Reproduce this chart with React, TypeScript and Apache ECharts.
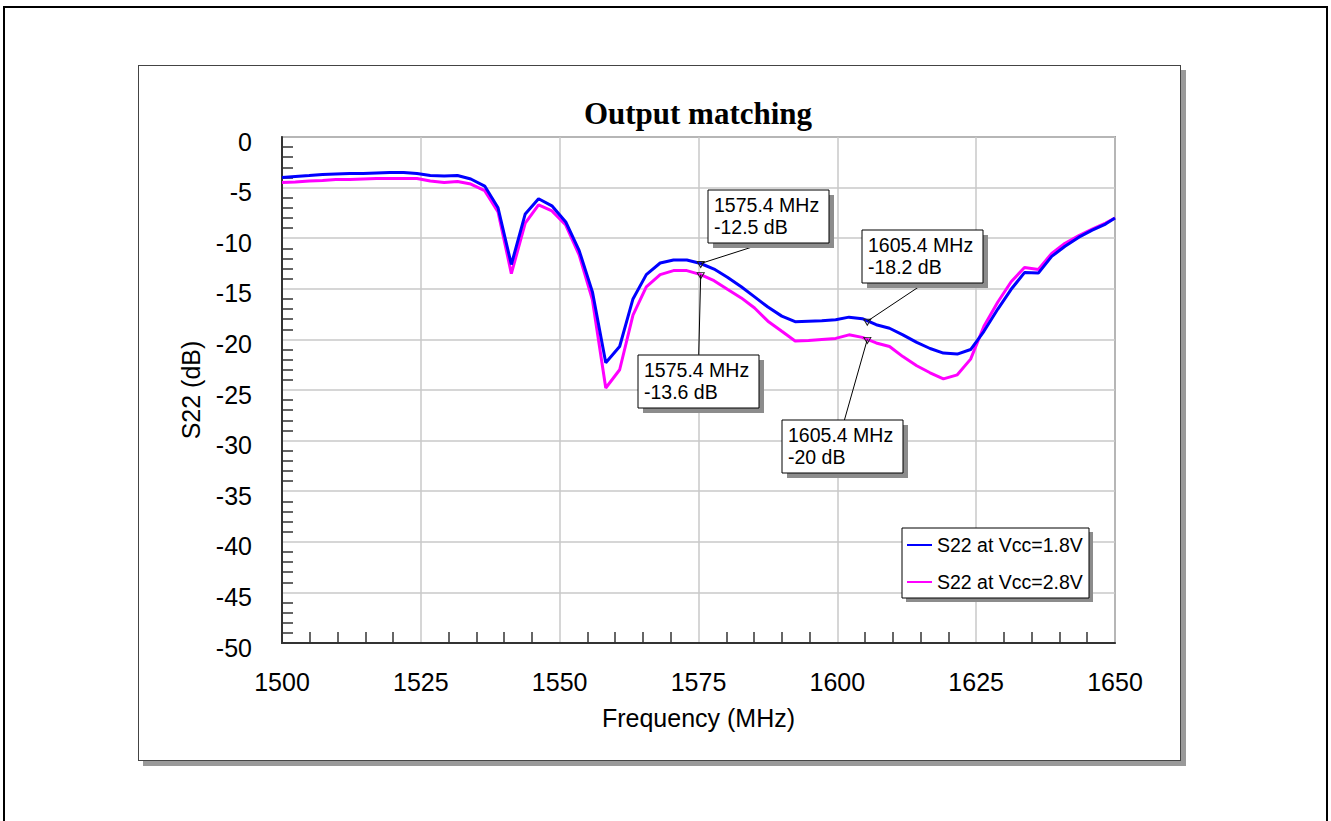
import React, { useEffect, useRef } from 'react';
import * as echarts from 'echarts';

const SANS = "'Liberation Sans', Arial, sans-serif";
const SERIF = "'Liberation Serif', 'Times New Roman', serif";

const chartTitle = 'Output matching';
const xAxisTitle = 'Frequency (MHz)';
const yAxisTitle = 'S22 (dB)';
const seriesNames = ['S22 at Vcc=1.8V', 'S22 at Vcc=2.8V'];

const freqs = [
  1500.0, 1502.4, 1504.9, 1507.3, 1509.7, 1512.2, 1514.6, 1517.0, 1519.4, 1521.9,
  1524.3, 1526.7, 1529.2, 1531.6, 1534.0, 1536.5, 1538.9, 1541.3, 1543.8, 1546.2,
  1548.6, 1551.1, 1553.5, 1555.9, 1558.3, 1560.8, 1563.2, 1565.6, 1568.1, 1570.5,
  1572.9, 1575.4, 1577.8, 1580.2, 1582.7, 1585.1, 1587.5, 1590.0, 1592.4, 1594.8,
  1597.2, 1599.7, 1602.1, 1604.5, 1607.0, 1609.4, 1611.8, 1614.3, 1616.7, 1619.1,
  1621.6, 1624.0, 1626.4, 1628.9, 1631.3, 1633.7, 1636.2, 1638.6, 1641.0, 1643.5,
  1645.9, 1648.3, 1650.0,
];

const s22Vcc18 = [
  -4.0, -3.9, -3.8, -3.7, -3.65, -3.6, -3.6, -3.55, -3.5, -3.5,
  -3.6, -3.8, -3.85, -3.8, -4.15, -4.85, -7.0, -12.6, -7.6, -6.1,
  -6.8, -8.4, -11.2, -15.3, -22.3, -20.7, -16.0, -13.6, -12.45, -12.15,
  -12.15, -12.5, -13.05, -13.85, -14.8, -15.8, -16.8, -17.7, -18.25, -18.2,
  -18.15, -18.05, -17.8, -17.95, -18.55, -18.9, -19.55, -20.3, -20.9, -21.35,
  -21.45, -21.0, -19.2, -17.0, -15.05, -13.4, -13.45, -11.8, -10.8, -9.9,
  -9.2, -8.6, -8.0,
];

const s22Vcc28 = [
  -4.5, -4.45, -4.35, -4.3, -4.2, -4.2, -4.15, -4.1, -4.1, -4.1,
  -4.1, -4.35, -4.5, -4.4, -4.65, -5.3, -7.4, -13.5, -8.5, -6.7,
  -7.3, -8.7, -11.65, -16.1, -24.8, -23.0, -17.6, -14.8, -13.6, -13.2,
  -13.2, -13.6, -14.2, -15.05, -15.9, -16.9, -18.2, -19.2, -20.15, -20.1,
  -20.0, -19.9, -19.55, -19.8, -20.35, -20.7, -21.7, -22.6, -23.3, -23.9,
  -23.5, -21.95, -18.7, -16.3, -14.3, -12.9, -13.1, -11.5, -10.5, -9.75,
  -9.1, -8.5, -8.0,
];

const markerFreqs = [1575.4, 1605.4];
const markersVcc18 = [-12.5, -18.2];
const markersVcc28 = [-13.6, -20];

// box placement relative to the marked point (pixels): box top-left, and leader attach point
const annotationLayout = [
  { series: 0, marker: 0, dx: 7, dy: -74, ax: 53, ay: -17 },
  { series: 1, marker: 0, dx: -63, dy: 80, ax: -2, ay: 80 },
  { series: 0, marker: 1, dx: -5, dy: -91, ax: 51, ay: -34 },
  { series: 1, marker: 1, dx: -85, dy: 81, ax: -23, ay: 81 },
];

const colors = ['#0000ff', '#ff00ff'];

function pairs(vals: number[]) {
  return freqs.map((f, i) => [f, vals[i]]);
}

function markPointFor(vals: number[]) {
  return {
    silent: true,
    symbol: 'triangle',
    symbolSize: [7, 6],
    symbolRotate: 180,
    symbolOffset: [0, 1],
    itemStyle: { color: 'rgba(0,0,0,0)', borderColor: '#222', borderWidth: 1 },
    label: { show: false },
    data: markerFreqs.map((f, i) => ({ coord: [f, vals[i]] })),
  };
}

export default function App() {
  const ref = useRef<HTMLDivElement>(null);

  useEffect(() => {
    const chart = echarts.init(ref.current as HTMLDivElement, null, { renderer: 'svg' });
    const axisCommon = {
      type: 'value',
      nameLocation: 'middle',
      nameTextStyle: { fontFamily: SANS, fontSize: 25, color: '#000' },
      axisLine: { show: true, onZero: false, lineStyle: { color: '#333', width: 2 } },
      axisTick: { show: false, inside: true },
      minorTick: { show: true, splitNumber: 5, length: 11, lineStyle: { color: '#333', width: 1.5 } },
      splitLine: { show: true, lineStyle: { color: '#c8c8c8', width: 1.5 } },
      minorSplitLine: { show: false },
    };
    const option: any = {
      animation: false,
      grid: {
        left: 282, top: 137, width: 833, height: 506,
        show: true, borderColor: '#555', borderWidth: 1.5,
      },
      xAxis: {
        ...axisCommon,
        min: 1500, max: 1650, interval: 25,
        name: xAxisTitle, nameGap: 62,
        axisLabel: { fontFamily: SANS, fontSize: 25, color: '#000', margin: 26, formatter: (v: number) => String(v) },
      },
      yAxis: {
        ...axisCommon,
        min: -50, max: 0, interval: 5,
        name: yAxisTitle, nameGap: 79, nameRotate: 90,
        axisLabel: {
          fontFamily: SANS, fontSize: 25, color: '#000', margin: 30,
          verticalAlign: 'top', lineHeight: 9,
          formatter: (v: number) => String(v),
        },
      },
      legend: {
        orient: 'vertical',
        left: 902, top: 528,
        padding: [7, 5, 5, 5],
        itemWidth: 25, itemHeight: 2, itemGap: 17,
        icon: 'rect',
        textStyle: { fontFamily: SANS, fontSize: 19.5, color: '#000' },
        data: seriesNames,
      },
      series: [
        {
          name: seriesNames[1], type: 'line', data: pairs(s22Vcc28), showSymbol: false, symbol: 'none',
          color: colors[1], lineStyle: { color: colors[1], width: 3 }, z: 2,
          markPoint: markPointFor(markersVcc28),
        },
        {
          name: seriesNames[0], type: 'line', data: pairs(s22Vcc18), showSymbol: false, symbol: 'none',
          color: colors[0], lineStyle: { color: colors[0], width: 3 }, z: 3,
          markPoint: markPointFor(markersVcc18),
        },
      ],
    };
    chart.setOption(option);

    const graphics: any[] = [
      {
        type: 'text', z: 10, silent: true,
        style: { text: chartTitle, x: 698, y: 113, textAlign: 'center', textVerticalAlign: 'middle', font: `bold 31px ${SERIF}`, fill: '#000' },
      },
      { type: 'rect', z: 3, silent: true, shape: { x: 906, y: 532, width: 187, height: 70 }, style: { fill: '#8c8c8c' } },
      { type: 'rect', z: 3, silent: true, shape: { x: 902, y: 528, width: 187, height: 70 }, style: { fill: '#fff', stroke: '#000', lineWidth: 1 } },
    ];

    annotationLayout.forEach((a) => {
      const f = markerFreqs[a.marker];
      const v = a.series === 0 ? markersVcc18[a.marker] : markersVcc28[a.marker];
      const p = chart.convertToPixel({ xAxisIndex: 0, yAxisIndex: 0 }, [f, v]) as number[];
      const bx = Math.round(p[0] + a.dx);
      const by = Math.round(p[1] + a.dy);
      graphics.push({
        type: 'line', z: 9, silent: true,
        shape: { x1: p[0] + a.ax, y1: p[1] + a.ay, x2: p[0], y2: p[1] },
        style: { stroke: '#000', lineWidth: 1 },
      });
      graphics.push({ type: 'rect', z: 10, silent: true, shape: { x: bx + 5, y: by + 5, width: 121, height: 53 }, style: { fill: '#8c8c8c' } });
      graphics.push({ type: 'rect', z: 10, silent: true, shape: { x: bx, y: by, width: 121, height: 53 }, style: { fill: '#fff', stroke: '#000', lineWidth: 1 } });
      graphics.push({
        type: 'text', z: 11, silent: true,
        style: { text: `${f} MHz\n${v} dB`, x: bx + 6, y: by + 4, textVerticalAlign: 'top', font: `19.5px ${SANS}`, lineHeight: 22, fill: '#000' },
      });
    });

    chart.setOption({ graphic: graphics });
    return () => chart.dispose();
  }, []);

  return (
    <div style={{ position: 'fixed', left: 0, top: 0, width: 1331, height: 821, background: '#fff', overflow: 'hidden' }}>
      <div style={{ position: 'absolute', left: 3, top: 6, width: 1321, height: 820, border: '2px solid #000' }} />
      <div style={{ position: 'absolute', left: 138, top: 65, width: 1041, height: 694, border: '1px solid #444', boxShadow: '5px 5px 0 #999', background: '#fff' }} />
      <div ref={ref} style={{ position: 'absolute', left: 0, top: 0, width: 1331, height: 821 }} />
    </div>
  );
}
